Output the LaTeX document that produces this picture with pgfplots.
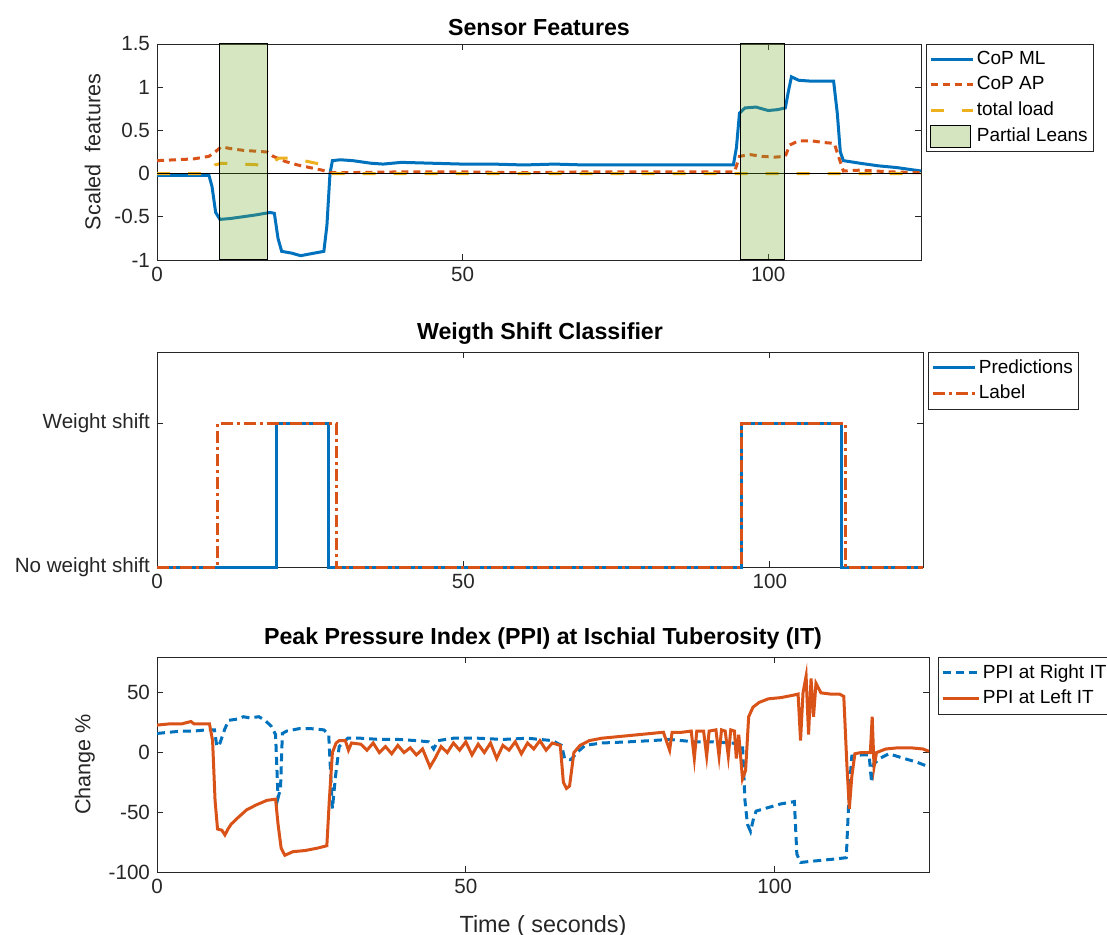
\documentclass[border=0pt]{standalone}
\usepackage{fontspec}
\setmainfont{Liberation Sans}
\usepackage{pgfplots}
\pgfplotsset{compat=1.18}
\definecolor{mblue}{rgb}{0,0.447,0.741}
\definecolor{mred}{rgb}{0.85,0.325,0.098}
\definecolor{myellow}{rgb}{0.929,0.694,0.125}
\definecolor{mgreen}{rgb}{0.466,0.674,0.188}
\definecolor{axgray}{rgb}{0.15,0.15,0.15}
\pgfplotsset{
  mystyle/.style={
    scale only axis,
    xmin=0, xmax=125,
    xtick={0,50,100},
    tick align=inside,
    major tick length=3pt,
    axis line style={axgray, line width=0.45pt},
    every tick/.style={axgray, line width=0.45pt},
    tick label style={font=\fontsize{10.3}{12}\selectfont, text=axgray},
    /pgf/number format/assume math mode=true,
    title style={font=\bfseries\fontsize{11.6}{13}\selectfont, yshift=-5.5pt},
    label style={font=\fontsize{10.8}{12}\selectfont, text=axgray},
    legend style={font=\fontsize{9.5}{11}\selectfont, draw=axgray, line width=0.45pt,
      at={(1,1)}, anchor=north west, xshift=2.5pt, inner sep=1.5pt, row sep=0.5pt,
      nodes={inner xsep=1.2pt}},
    legend cell align=left,
    legend image code/.code={\draw[##1] (0pt,0pt) -- (21pt,0pt);},
  },
  patchlegend/.style={legend image code/.code={\draw[##1] (0pt,-5.5pt) rectangle (20pt,5.5pt);}},
  shortlegend/.style={legend image code/.code={\draw[##1] (0pt,0pt) -- (18pt,0pt);}},
}
\begin{document}
\begin{tikzpicture}
\useasboundingbox (0,0) rectangle (553.5pt,-467.5pt);
% ---------------- Top axis ----------------
\begin{axis}[mystyle,
  at={(78.5pt,-130pt)}, anchor=south west,
  width=382pt, height=108pt,
  ymin=-1, ymax=1.5, ytick={-1,-0.5,0,0.5,1,1.5},
  title={Sensor Features},
  ylabel={Scaled\ \ features},
]
\addplot[mblue, line width=1.5pt] coordinates {
(0,-0.02) (5,-0.02) (8.5,-0.02) (9.0,-0.15) (9.6,-0.45) (10.3,-0.53) (12,-0.52) (14,-0.50) (16,-0.48) (18.5,-0.45) (19.2,-0.46) (19.8,-0.75) (20.4,-0.90) (22,-0.92) (23.5,-0.95) (25,-0.93) (27.3,-0.90) (27.8,-0.6) (28.3,0.0) (28.7,0.15) (30,0.16) (32,0.15) (35,0.12) (37,0.11) (40,0.13) (45,0.12) (50,0.11) (55,0.11) (60,0.10) (65,0.11) (70,0.10) (75,0.10) (80,0.10) (85,0.10) (90,0.10) (94.3,0.10) (94.8,0.3) (95.3,0.70) (96.2,0.76) (98,0.77) (100,0.73) (101.5,0.74) (102.8,0.76) (103.3,0.95) (103.8,1.12) (105,1.08) (107,1.07) (109,1.07) (110.7,1.07) (111.3,0.7) (111.8,0.25) (112.3,0.15) (115,0.12) (118,0.09) (121,0.07) (125,0.03)
};
\addlegendentry{CoP ML}
\addplot[mred, line width=1.5pt, dash pattern=on 3.5pt off 2.5pt] coordinates {
(0,0.15) (3,0.16) (6,0.17) (8.5,0.20) (9.5,0.25) (10.5,0.31) (12,0.29) (14,0.27) (16,0.26) (18,0.25) (19,0.20) (21,0.14) (23,0.10) (25,0.07) (27,0.04) (28.5,0.01) (30,0.01) (40,0.02) (50,0.02) (60,0.01) (70,0.02) (80,0.02) (90,0.02) (94.5,0.02) (95.3,0.20) (97,0.22) (99,0.20) (101,0.19) (102.8,0.20) (103.5,0.33) (105,0.38) (107,0.38) (109,0.36) (110.8,0.35) (111.5,0.2) (112.3,0.03) (115,0.04) (120,0.02) (125,0.01)
};
\addlegendentry{CoP AP}
\addplot[myellow, line width=1.5pt, dash pattern=on 6.5pt off 9pt] coordinates {
(0,0) (8.5,0) (9.5,0.10) (10.5,0.12) (14,0.11) (17,0.10) (18.5,0.12) (20,0.18) (22,0.18) (24,0.15) (26,0.12) (27.5,0.10) (28.5,0.0) (125,0)
};
\addlegendentry{total load}
\addplot[black, line width=0.5pt, forget plot] coordinates {(0,0) (125,0)};
\addplot[draw=black, line width=0.5pt, fill=mgreen, fill opacity=0.3, patchlegend]
  coordinates {(10.3,-1) (10.3,1.5) (18.0,1.5) (18.0,-1)} -- cycle;
\addlegendentry{Partial Leans}
\addplot[draw=black, line width=0.5pt, fill=mgreen, fill opacity=0.3, forget plot]
  coordinates {(95.5,-1) (95.5,1.5) (102.7,1.5) (102.7,-1)} -- cycle;
\end{axis}
% ---------------- Middle axis ----------------
\begin{axis}[mystyle,
  at={(78.5pt,-283.5pt)}, anchor=south west,
  width=383pt, height=107.5pt,
  ymin=0, ymax=1.5, ytick={0,1}, yticklabels={No weight shift, Weight shift},
  title={Weigth Shift Classifier},
  clip=false,
]
\addplot[mblue, line width=1.5pt] coordinates {
(0,0) (19.5,0) (19.5,1) (28.0,1) (28.0,0) (95.3,0) (95.3,1) (111.7,1) (111.7,0) (125,0)
};
\addlegendentry{Predictions}
\addplot[mred, line width=1.5pt, dash pattern=on 6pt off 2pt on 1.5pt off 2pt] coordinates {
(0,0) (9.8,0) (9.8,1) (29.3,1) (29.3,0) (95.3,0) (95.3,1) (112.3,1) (112.3,0) (125,0)
};
\addlegendentry{Label}
\end{axis}
% ---------------- Bottom axis ----------------
\begin{axis}[mystyle,
  at={(78.5pt,-436pt)}, anchor=south west,
  width=386pt, height=107.5pt,
  ymin=-100, ymax=80, ytick={-100,-50,0,50},
  title={Peak Pressure Index (PPI) at Ischial Tuberosity (IT)},
  ylabel={Change \%},
  xlabel={Time ( seconds)},
  xlabel style={font=\fontsize{11.7}{13}\selectfont, yshift=-4pt},
  legend style={xshift=2pt},
]
\addplot[mblue, line width=1.5pt, dash pattern=on 4pt off 2.5pt, shortlegend] coordinates {
(0,16) (2,17) (4,18) (6,18) (8,19) (9.3,19) (9.7,5) (10.2,8) (11,20) (11.6,27) (13,28) (14,30) (15,29) (16.5,30) (17.5,27) (18.5,22) (19.2,15) (19.6,-38) (20.0,-30) (20.3,16) (21,18) (23,20) (25,20) (27,19) (27.8,15) (28.4,-47) (28.9,-20) (29.5,5) (30.9,12) (33,12) (36,11) (39,11) (42,10) (44,9) (44.8,3) (45.5,10) (48,12) (52,12) (56,11) (60,12) (64,10) (65.5,6) (66,-5) (67,-6) (68,0) (69.3,6) (72,8) (76.4,9) (80,10) (83,11) (87,9) (90,9) (93,8) (94.8,7) (95.2,-40) (95.6,-60) (96.1,-66) (96.6,-55) (97,-49) (99,-46) (101,-43) (103.2,-41) (103.6,-85) (104.2,-92) (106,-91) (108,-90) (110,-89) (111.6,-88) (112.1,-30) (112.5,-3) (114,-2) (115.3,-2) (115.7,-25) (116,-10) (117,-5) (118.5,-1) (121,-5) (123,-8) (125,-12)
};
\addlegendentry{PPI at Right IT}
\addplot[mred, line width=1.5pt, shortlegend] coordinates {
(0,23) (2,24) (4,24) (5.5,26) (6,24) (8.5,24) (9.0,10) (9.4,-40) (9.8,-64) (10.5,-65) (11,-69) (11.5,-64) (12,-60) (13,-55) (14.5,-48) (16,-44) (17.8,-40) (19.2,-39) (19.6,-60) (20.1,-80) (20.7,-86) (22,-83) (24,-82) (26,-80) (27.5,-78) (27.9,-40) (28.4,0) (29,8) (29.5,10) (30.5,10) (31,2) (31.5,8) (33,7) (34,2) (35,8) (36,0) (37,5) (38,-1) (39,6) (40,0) (41,4) (42,-2) (43,3) (44.2,-12) (45,-5) (46,5) (47,0) (48,8) (49,2) (50,9) (51,-2) (52,7) (53,0) (54,8) (55,-5) (56,6) (57,2) (58,9) (59,-1) (60,8) (61,3) (62,10) (63,2) (64,8) (65.3,6) (65.8,-25) (66.3,-30) (66.8,-28) (67.5,0) (68.5,6) (70,10) (72,12) (74,13) (76,14) (78,15) (80,16) (82,17) (83,2) (83.4,17) (85,17) (86.5,18) (87,-5) (87.4,18) (88.5,18) (89,-3) (89.4,18) (90.5,19) (91,-3) (91.4,19) (92,18) (92.5,-3) (92.9,19) (93.5,18) (93.8,-5) (94.2,15) (94.8,-22) (95.3,-15) (95.8,30) (96.5,38) (97.5,42) (99,45) (101,46) (103,48) (103.8,49) (104.2,10) (104.6,50) (105.1,64) (105.5,15) (105.9,62) (106.3,30) (106.7,58) (107.5,50) (109,49) (110.5,49) (111.2,47) (111.7,-10) (112.1,-47) (112.5,-20) (113,-1) (114,0) (115.5,0) (115.8,30) (116.1,-12) (116.5,0) (118,3) (120,4) (122,4) (124,3) (125,1)
};
\addlegendentry{PPI at Left IT}
\end{axis}
\end{tikzpicture}
\end{document}
